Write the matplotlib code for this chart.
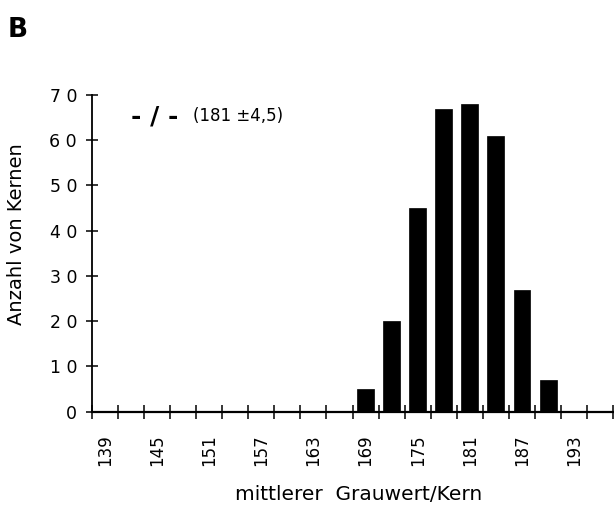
import matplotlib
matplotlib.use("Agg")
import matplotlib.pyplot as plt
import numpy as np

# Data
bin_centers = [139, 142, 145, 148, 151, 154, 157, 160, 163, 166,
               169, 172, 175, 178, 181, 184, 187, 190, 193, 196]
counts = [0, 0, 0, 0, 0, 0, 0, 0, 0, 0,
          5, 20, 45, 67, 68, 61, 27, 7, 0, 0]
x_tick_labels = [139, 145, 151, 157, 163, 169, 175, 181, 187, 193]
y_ticks = [0, 10, 20, 30, 40, 50, 60, 70]
y_tick_labels = ["0", "1 0", "2 0", "3 0", "4 0", "5 0", "6 0", "7 0"]
bin_width = 3

plt.rcParams['font.family'] = ['DejaVu Sans']

fig = plt.figure(figsize=(6.14, 5.08), dpi=100)
ax = fig.add_axes([91.7/614, 1-411.7/508, (613.3-91.7)/614, (411.7-95)/508])

ax.bar(bin_centers, counts, width=bin_width*0.65, color='black', edgecolor='black', linewidth=0.5)

edges = [c - bin_width/2 for c in bin_centers] + [bin_centers[-1] + bin_width/2]
ax.set_xlim(edges[0], edges[-1])
ax.set_ylim(0, 70)

ax.set_xticks(edges)
ax.set_xticklabels([])
ax.set_xticks(x_tick_labels, minor=True)
ax.set_xticklabels([str(v) for v in x_tick_labels], minor=True, rotation=90, fontsize=12)
ax.tick_params(axis='x', which='major', direction='inout', length=9.5, width=1.1, color='black')
ax.tick_params(axis='x', which='minor', length=0, pad=16)

ax.set_yticks(y_ticks)
ax.set_yticklabels(y_tick_labels, fontsize=12.5)
ax.tick_params(axis='y', which='major', direction='inout', length=9, width=1.1, pad=6)

for s in ['top', 'right']:
    ax.spines[s].set_visible(False)
ax.spines['left'].set_linewidth(1.3)
ax.spines['bottom'].set_linewidth(1.6)
ax.spines['bottom'].set_bounds(edges[0], edges[-1])

fig.text(17/614, 1-234/508, "Anzahl von Kernen", rotation=90, fontsize=14,
         ha='center', va='center')
fig.text(358.5/614, 1-494/508, "mittlerer  Grauwert/Kern", fontsize=14.5,
         ha='center', va='center')
fig.text(8/614, 1-37/508, "B", fontsize=19, fontweight='bold', ha='left', va='baseline')
fig.text(131/614, 1-116/508, "- / -", fontsize=18, fontweight='bold', ha='left', va='center')
fig.text(193/614, 1-116/508, "(181 ±4,5)", fontsize=12, ha='left', va='center')

fig.savefig("out.png", dpi=100)
